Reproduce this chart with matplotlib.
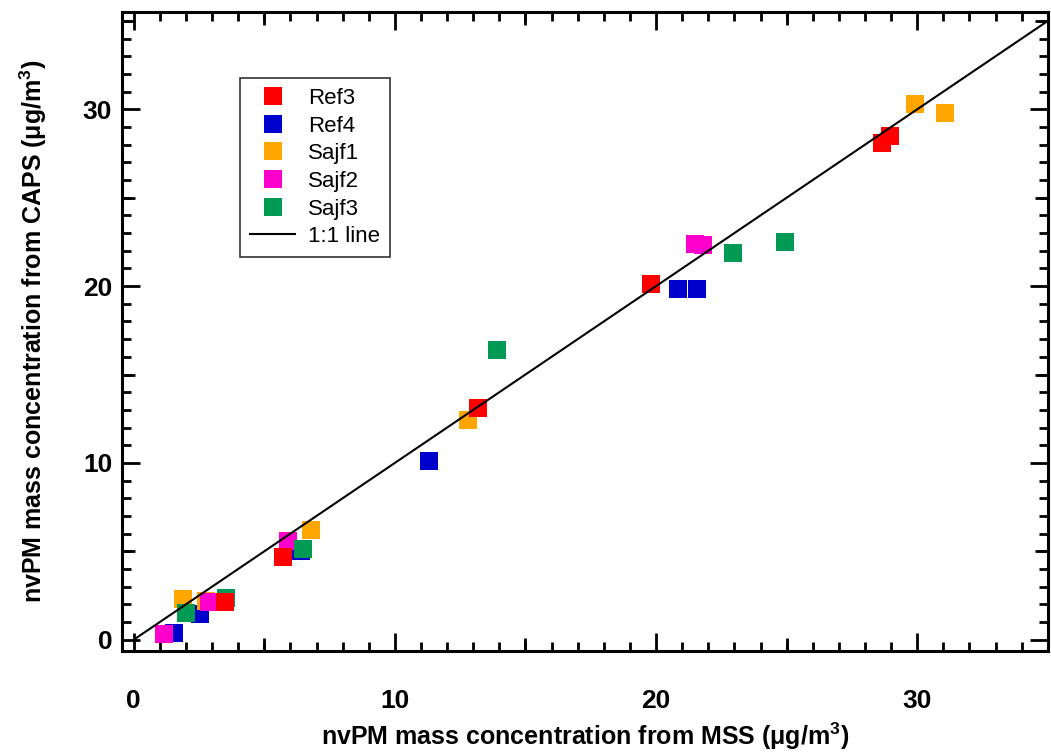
import matplotlib
matplotlib.use("Agg")
import matplotlib.pyplot as plt
from matplotlib.ticker import MultipleLocator

# --------------------------
# data (ug/m3)
# --------------------------
ref3_x = [3.5, 5.7, 13.2, 19.8, 28.65, 28.95]
ref3_y = [2.15, 4.7, 13.1, 20.1, 28.1, 28.5]

ref4_x = [1.53, 2.55, 6.4, 11.3, 20.85, 21.55]
ref4_y = [0.4, 1.45, 5.0, 10.1, 19.85, 19.85]

sajf1_x = [1.9, 2.78, 6.8, 12.8, 29.9, 31.05]
sajf1_y = [2.3, 2.2, 6.2, 12.4, 30.3, 29.8]

sajf2_x = [1.18, 2.9, 5.9, 21.5, 21.8]
sajf2_y = [0.35, 2.15, 5.6, 22.4, 22.3]

sajf3_x = [2.0, 3.55, 6.5, 13.9, 22.95, 24.95]
sajf3_y = [1.5, 2.35, 5.15, 16.4, 21.85, 22.5]

one_to_one = [0, 35]

plt.rcParams['font.family'] = ['Liberation Sans', 'DejaVu Sans']
plt.rcParams['mathtext.fontset'] = 'custom'
plt.rcParams['mathtext.rm'] = 'Liberation Sans:bold'
plt.rcParams['mathtext.bf'] = 'Liberation Sans:bold'

fig = plt.figure(figsize=(10.51, 7.52), dpi=100)
ax = fig.add_axes([0.116, 0.134, 0.881, 0.850])

ms = 12.5
# draw order so overlaps look like the original
ax.plot(ref4_x, ref4_y, 's', color='#0000CC', ms=ms, mew=0, zorder=2, label='Ref4')
ax.plot(sajf1_x, sajf1_y, 's', color='#FFA500', ms=ms, mew=0, zorder=3, label='Sajf1')
ax.plot(sajf2_x, sajf2_y, 's', color='#FF00CC', ms=ms, mew=0, zorder=4, label='Sajf2')
ax.plot(sajf3_x, sajf3_y, 's', color='#009A55', ms=ms, mew=0, zorder=5, label='Sajf3')
ax.plot(ref3_x, ref3_y, 's', color='#FF0000', ms=ms, mew=0, zorder=6, label='Ref3')
ax.plot(one_to_one, one_to_one, '-', color='black', lw=1.5, zorder=7, label='1:1 line')

ax.set_xlim(-0.45, 35)
ax.set_ylim(-0.65, 35.5)

# ticks: long every 10, medium every 5, short every 1, all inward on four sides
ax.xaxis.set_major_locator(MultipleLocator(10))
ax.yaxis.set_major_locator(MultipleLocator(10))
ax.xaxis.set_minor_locator(MultipleLocator(1))
ax.yaxis.set_minor_locator(MultipleLocator(1))
ax.tick_params(which='both', direction='in', top=True, right=True, width=2)
ax.tick_params(which='major', length=13)
ax.tick_params(which='minor', length=6.5)
ax.tick_params(axis='x', which='major', pad=27)
ax.tick_params(axis='y', which='major', pad=7)
for lbl in ax.get_xticklabels() + ax.get_yticklabels():
    lbl.set_fontsize(19)
    lbl.set_fontweight('bold')

for side in ['bottom', 'top']:
    sec = ax.secondary_xaxis(side)
    sec.xaxis.set_major_locator(MultipleLocator(10, offset=5))
    sec.tick_params(direction='in', length=9.5, width=2,
                    labelbottom=False, labeltop=False)
    sec.spines[side].set_visible(False)
for side in ['left', 'right']:
    sec = ax.secondary_yaxis(side)
    sec.yaxis.set_major_locator(MultipleLocator(10, offset=5))
    sec.tick_params(direction='in', length=9.5, width=2,
                    labelleft=False, labelright=False)
    sec.spines[side].set_visible(False)

for s in ax.spines.values():
    s.set_linewidth(2.2)

ax.set_xlabel('nvPM mass concentration from MSS (μg/m$^{3}$)',
              fontsize=18, fontweight='bold', labelpad=6)
ax.set_ylabel('nvPM mass concentration from CAPS (μg/m$^{3}$)',
              fontsize=18, fontweight='bold', labelpad=24)

# legend in the original order
h, l = ax.get_legend_handles_labels()
order = ['Ref3', 'Ref4', 'Sajf1', 'Sajf2', 'Sajf3', '1:1 line']
hd = dict(zip(l, h))
leg = ax.legend([hd[k] for k in order], order, loc='upper left',
                bbox_to_anchor=(0.128, 0.897), borderaxespad=0,
                fontsize=16, frameon=True,
                fancybox=False, edgecolor='black', labelspacing=0.3,
                handlelength=2.0, handletextpad=0.6, borderpad=0.45)
leg.get_frame().set_linewidth(1.2)

fig.savefig('out.png', dpi=100)
